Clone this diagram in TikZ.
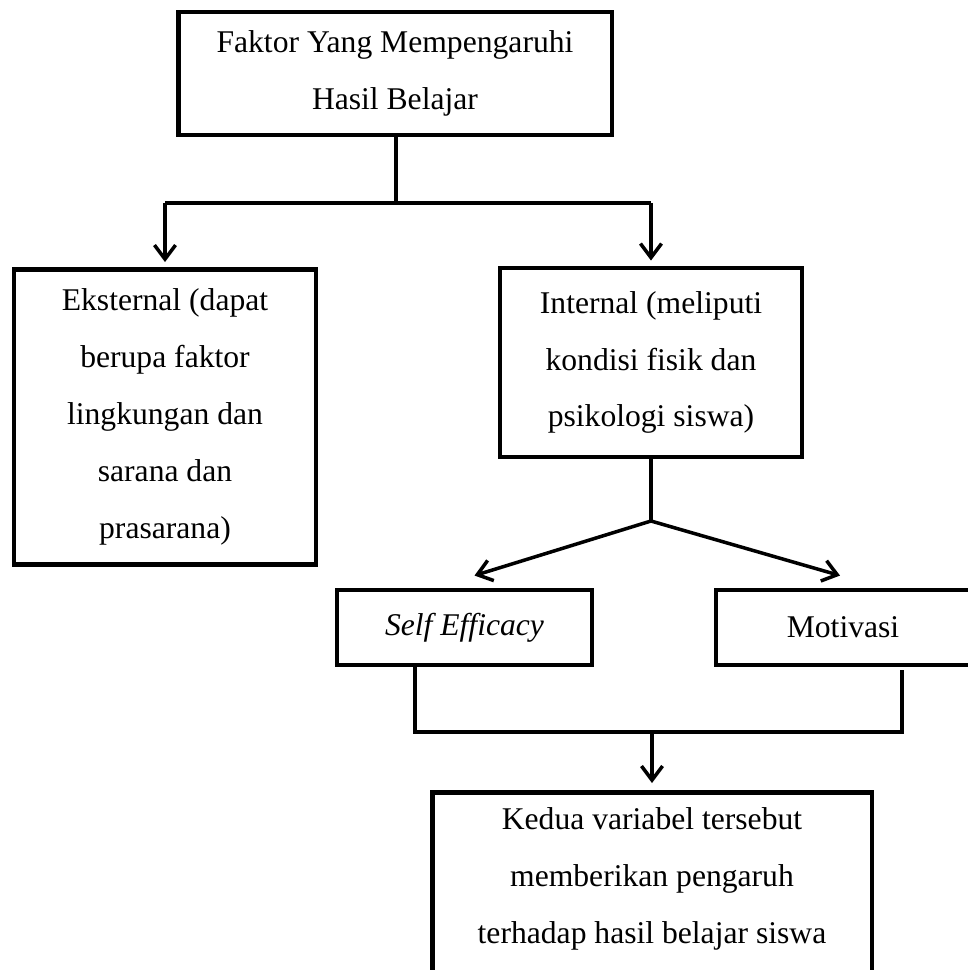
\documentclass[tikz,border=0pt]{standalone}
\usepackage{fontspec}
\setmainfont{Liberation Serif}
\usetikzlibrary{arrows.meta}

\begin{document}
\begin{tikzpicture}[x=0.02cm, y=-0.02cm,
  kotak/.style={draw, line width=2.8pt, align=center, inner sep=0pt,
    font=\fontsize{18}{32.4}\selectfont},
  teks/.style={align=center, inner sep=0pt, font=\fontsize{18}{32.4}\selectfont},
  garis/.style={line width=2pt},
  panah/.style={garis, -{Straight Barb[length=8pt,width=12pt]}}]

\useasboundingbox (0,0) rectangle (967,970);

\node [kotak, minimum width=8.68cm, minimum height=2.46cm] (faktor) at (395,73.5)
  {Faktor Yang Mempengaruhi\\Hasil Belajar};
\node [kotak, minimum width=6.04cm, minimum height=5.9cm] (eksternal) at (165,417)
  {Eksternal (dapat\\berupa faktor\\lingkungan dan\\sarana dan\\prasarana)};
\node [kotak, minimum width=6.04cm, minimum height=3.78cm] (internal) at (651,362.5)
  {Internal (meliputi\\kondisi fisik dan\\psikologi siswa)};
\node [kotak, minimum width=5.1cm, minimum height=1.5cm] (self) at (464.5,627.5)
  {\textit{Self Efficacy}};
\node [kotak, minimum width=5.08cm, minimum height=1.5cm] (motivasi) at (843,627.5)
  {Motivasi};
\node [kotak, minimum width=8.8cm, minimum height=4.2cm, anchor=north] (hasil) at (652,790) {};
\node [teks] (hasilteks) at (652,878.5)
  {Kedua variabel tersebut\\memberikan pengaruh\\terhadap hasil belajar siswa};

\coordinate (cabang) at (396,203);
\coordinate (puncak) at (651,521);
\coordinate (gabung) at (652,732);
\coordinate (kiri) at ([xshift=-0.99cm]self.south);
\coordinate (kanan) at ([xshift=1.18cm,yshift=-0.06cm]motivasi.south);

% faktor -> eksternal / internal
\draw [garis] (faktor.south -| cabang) -- (cabang);
\draw [garis] (eksternal.north |- cabang) -- (internal.north |- cabang);
\draw [panah] (eksternal.north |- cabang) -- ([yshift=0.1cm]eksternal.north);
\draw [panah] (internal.north |- cabang) -- ([yshift=0.1cm]internal.north);

% internal -> self efficacy / motivasi
\draw [garis] (internal.south) -- (puncak);
\draw [panah] (puncak) -- ([xshift=0.2cm,yshift=0.24cm]self.north);
\draw [panah] (puncak) -- ([xshift=-0.06cm,yshift=0.24cm]motivasi.north);

% gabung -> hasil
\draw [garis] (kiri) -- (kiri |- gabung) -- (kanan |- gabung) -- (kanan);
\draw [panah] (gabung) -- ([yshift=0.14cm]hasil.north);

\end{tikzpicture}
\end{document}
